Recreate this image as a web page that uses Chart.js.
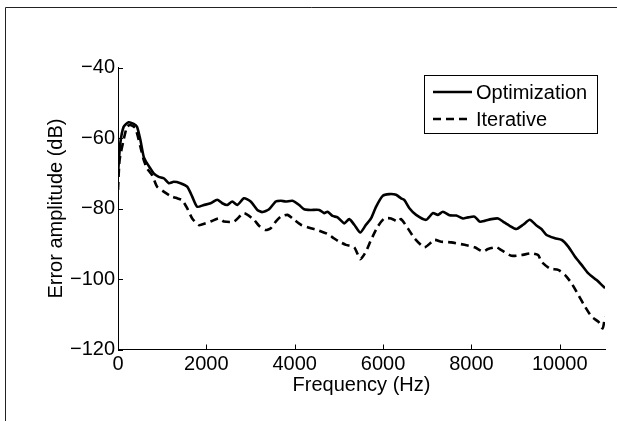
<!DOCTYPE html>
<html>
<head>
<meta charset="utf-8">
<script src="https://cdn.jsdelivr.net/npm/chart.js@4"></script>
<style>
  html, body { margin: 0; padding: 0; background: #fff; }
</style>
</head>
<body>
<canvas id="chart" width="617" height="421"></canvas>
<script>
// values
const optFreq = [0, 52, 128, 240, 355, 430, 506, 582, 658, 733, 808, 922, 1035, 1150, 1262, 1414, 1566, 1680, 1793, 1944,
  2095, 2247, 2360, 2474, 2588, 2701, 2852, 3003, 3155, 3269, 3420, 3571, 3685, 3798, 3950, 4101, 4214, 4366, 4555, 4668,
  4744, 4858, 4971, 5122, 5235, 5349, 5485, 5614, 5728, 5841, 5993, 6143, 6295, 6409, 6484, 6597, 6749, 6976, 7128, 7242,
  7355, 7505, 7657, 7809, 7923, 8073, 8187, 8300, 8452, 8604, 8717, 8867, 9019, 9171, 9322, 9474, 9587, 9702, 9891, 10043,
  10193, 10343, 10495, 10647, 10835, 11025];
const optDb = [-70, -61.5, -56.8, -55.5, -56, -56.8, -60.5, -65.3, -67.2, -68.6, -70, -71, -71.4, -72.8, -72.4, -72.8, -73.8, -76.6, -79.5, -79,
  -78.5, -77.5, -78.5, -79, -78, -79, -77.1, -78, -80.4, -81, -80.2, -78, -77.8, -78, -77.8, -79, -80.2, -80.4, -80.4, -81.3,
  -80.9, -82.1, -82.5, -84.2, -83, -84.6, -86.8, -84.6, -82.8, -79.5, -76.4, -75.9, -76.1, -77.1, -77.6, -79.9, -81.8, -83.2, -81.3, -81.8,
  -80.9, -81.9, -82, -82.8, -82.5, -82.3, -83.7, -83.5, -83, -82.8, -83.7, -84.9, -85.8, -84.6, -83.2, -84.8, -85.8, -87.5, -88.4, -88.9,
  -90.8, -93.6, -96, -98.4, -100.3, -102.6];

const iterFreq = [0, 36, 128, 204, 279, 393, 506, 582, 658, 771, 885, 1035, 1187, 1339, 1453, 1566, 1680, 1830, 1982, 2095,
  2284, 2398, 2625, 2852, 3079, 3193, 3344, 3457, 3571, 3685, 3837, 3950, 4139, 4366, 4517, 4744, 4895, 5008, 5160, 5349,
  5485, 5614, 5728, 5880, 6030, 6182, 6333, 6409, 6560, 6711, 6938, 7165, 7317, 7544, 7846, 8073, 8263, 8377, 8566, 8679,
  8906, 9133, 9360, 9511, 9587, 9776, 9965, 10117, 10268, 10420, 10571, 10722, 10874, 10971, 11025];
const iterDb = [-74.7, -66.2, -60.5, -56.8, -56.3, -57.2, -62.4, -66.2, -68.6, -70.5, -73.8, -75.2, -76.4, -77.1, -77.6, -79.9, -82.8, -84.7, -84.2, -83.7,
  -82.8, -83.7, -83.7, -81.3, -83.2, -84.9, -86.1, -85.6, -83.7, -82.3, -81.8, -82.8, -84.6, -85.6, -86.1, -87.2, -88.5, -89.4, -90.3, -91,
  -94.4, -92.2, -88.9, -85.1, -82.8, -82.8, -83.7, -83, -85.6, -88.4, -91, -88.9, -89.4, -89.6, -90.3, -91, -92.2, -91.5, -91, -91.8,
  -93.4, -93.2, -92.7, -93.2, -95.1, -97, -97.4, -98.8, -101.2, -104.5, -107.8, -110.7, -112.1, -114, -110.7];

const seriesNames = ['Optimization', 'Iterative'];
const xTicks = [0, 2000, 4000, 6000, 8000, 10000];
const yTicks = [-120, -100, -80, -60, -40];

Chart.defaults.font.family = "'Liberation Sans', Arial, sans-serif";
Chart.defaults.font.size = 20;
Chart.defaults.color = '#000';

// outer figure frame (top and left edges only)
const framePlugin = {
  id: 'frame',
  beforeDraw(chart) {
    const ctx = chart.ctx;
    ctx.save();
    ctx.strokeStyle = '#222';
    ctx.lineWidth = 1;
    ctx.beginPath();
    ctx.moveTo(5.5, 421);
    ctx.lineTo(5.5, 7.5);
    ctx.lineTo(617, 7.5);
    ctx.stroke();
    ctx.restore();
  }
};

// matlab style ticks pointing into the plot
const innerTicks = {
  id: 'innerTicks',
  afterDraw(chart) {
    const ctx = chart.ctx;
    const xs = chart.scales.x, ys = chart.scales.y;
    const area = chart.chartArea;
    ctx.save();
    ctx.strokeStyle = '#000';
    ctx.lineWidth = 1;
    ctx.beginPath();
    xTicks.forEach(v => {
      const px = Math.round(xs.getPixelForValue(v)) + 0.5;
      ctx.moveTo(px, area.bottom);
      ctx.lineTo(px, area.bottom - 5);
    });
    yTicks.forEach(v => {
      const py = Math.round(ys.getPixelForValue(v)) + 0.5;
      ctx.moveTo(area.left, py);
      ctx.lineTo(area.left + 5, py);
    });
    ctx.stroke();
    ctx.restore();
  }
};

const boxLegend = {
  id: 'boxLegend',
  afterDraw(chart) {
    const ctx = chart.ctx;
    ctx.save();
    ctx.fillStyle = '#fff';
    ctx.fillRect(424, 75, 173, 58);
    ctx.strokeStyle = '#000';
    ctx.lineWidth = 1;
    ctx.strokeRect(424.5, 75.5, 173, 58);
    const rows = [92, 119];
    chart.data.datasets.forEach((ds, i) => {
      ctx.strokeStyle = ds.borderColor;
      ctx.lineWidth = ds.borderWidth;
      ctx.setLineDash(ds.borderDash || []);
      ctx.beginPath();
      ctx.moveTo(433, rows[i]);
      ctx.lineTo(472, rows[i]);
      ctx.stroke();
      ctx.setLineDash([]);
      ctx.fillStyle = '#000';
      ctx.font = "20px 'Liberation Sans', Arial, sans-serif";
      ctx.textBaseline = 'middle';
      ctx.fillText(ds.label, 476, rows[i] + 1);
    });
    ctx.restore();
  }
};

const ctx = document.getElementById('chart').getContext('2d');
new Chart(ctx, {
  type: 'line',
  data: {
    datasets: [
      {
        label: seriesNames[0],
        data: optFreq.map((f, i) => ({ x: f, y: optDb[i] })),
        borderColor: '#000',
        borderWidth: 2.6,
        pointRadius: 0,
        tension: 0.2
      },
      {
        label: seriesNames[1],
        data: iterFreq.map((f, i) => ({ x: f, y: iterDb[i] })),
        borderColor: '#000',
        borderWidth: 2.6,
        borderDash: [8, 5],
        pointRadius: 0,
        tension: 0.2
      }
    ]
  },
  options: {
    responsive: false,
    animation: false,
    devicePixelRatio: 1,
    layout: { padding: { left: 0, top: 67.6, right: 12, bottom: 0 } },
    plugins: {
      legend: { display: false },
      tooltip: { enabled: false }
    },
    scales: {
      x: {
        type: 'linear',
        min: 0,
        max: 11025,
        grid: { display: false, drawTicks: false },
        border: { display: true, color: '#000', width: 1 },
        afterBuildTicks: s => { s.ticks = xTicks.map(v => ({ value: v })); },
        ticks: {
          autoSkip: false,
          padding: 3,
          maxRotation: 0,
          callback: v => String(v)
        },
        title: {
          display: true,
          text: 'Frequency (Hz)',
          padding: { top: 0, bottom: 24 }
        },
        afterFit: s => { s.height = 71.5; }
      },
      y: {
        min: -120,
        max: -40,
        grid: { display: false, drawTicks: false },
        border: { display: true, color: '#000', width: 1 },
        afterBuildTicks: s => { s.ticks = yTicks.map(v => ({ value: v })); },
        ticks: {
          autoSkip: false,
          padding: 3,
          callback: v => v < 0 ? '\u2212' + Math.abs(v) : String(v)
        },
        title: {
          display: true,
          text: 'Error amplitude (dB)',
          padding: { top: 44, bottom: 0 }
        },
        afterFit: s => { s.width = 118; }
      }
    }
  },
  plugins: [framePlugin, innerTicks, boxLegend]
});
</script>
</body>
</html>
